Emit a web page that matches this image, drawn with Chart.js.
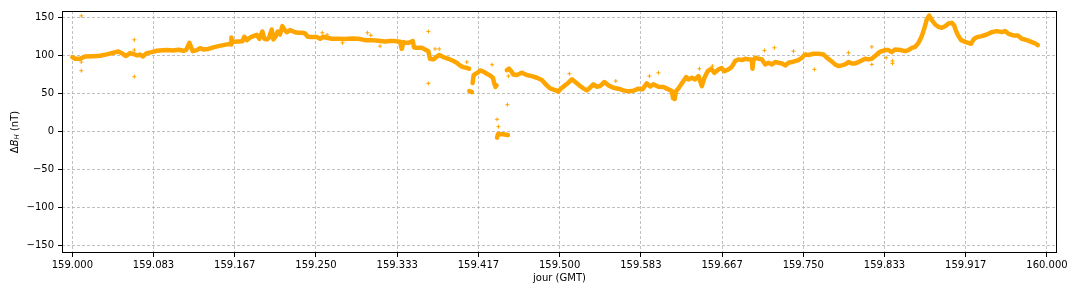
<!DOCTYPE html>
<html>
<head>
<meta charset="utf-8">
<script src="https://cdn.jsdelivr.net/npm/chart.js@4/dist/chart.umd.min.js"></script>
<style>
  html, body { margin: 0; padding: 0; background: #fff; }
  #wrap { width: 1080px; height: 295px; }
</style>
</head>
<body>
<div id="wrap"><canvas id="deltaBH" width="1080" height="295"></canvas></div>
<script>
// main trace of ΔB_H, day of year (GMT) vs nT ; null = gap in the record
const traceDay = [
  159.0000, 159.0028, 159.0079, 159.0130, 159.0215, 159.0284, 159.0353, 159.0421, 159.0472, 159.0517,
  159.0551, 159.0592, 159.0633, 159.0667, 159.0695, 159.0722, 159.0763, 159.0815, 159.0866, 159.0969,
  159.1036, 159.1088, 159.1139, 159.1167, 159.1201, 159.1235, 159.1277, 159.1310, 159.1344, 159.1396,
  159.1447, 159.1498, 159.1550, 159.1601, 159.1629, 159.1632, 159.1639, 159.1652, 159.1703, 159.1744,
  159.1765, 159.1790, 159.1824, 159.1857, 159.1892, 159.1919, 159.1950, 159.1970, 159.1995, 159.2018,
  159.2046, 159.2063, 159.2087, 159.2108, 159.2131, 159.2155, 159.2175, 159.2200, 159.2234, 159.2285,
  159.2319, 159.2360, 159.2388, 159.2416, 159.2457, 159.2508, 159.2542, 159.2576, 159.2611, 159.2662,
  159.2730, 159.2798, 159.2867, 159.2935, 159.3004, 159.3072, 159.3140, 159.3209, 159.3260, 159.3311,
  159.3363, 159.3380, 159.3397, 159.3414, 159.3448, 159.3493, 159.3506, 159.3534, 159.3585, 159.3619,
  159.3653, 159.3670, 159.3704, 159.3739, 159.3766, 159.3807, 159.3858, 159.3910, 159.3944, 159.3978,
  159.4012, 159.4053, 159.4071, 159.4072, 159.4073, 159.4100, 159.4104, 159.4107, 159.4117, 159.4133,
  159.4157, 159.4184, 159.4218, 159.4253, 159.4286, 159.4315, 159.4328, 159.4343, 159.4353, 159.4355,
  159.4358, 159.4368, 159.4420, 159.4469, 159.4470, 159.4458, 159.4481, 159.4502, 159.4525, 159.4560,
  159.4612, 159.4663, 159.4714, 159.4766, 159.4817, 159.4868, 159.4902, 159.4953, 159.4987, 159.5005,
  159.5056, 159.5090, 159.5125, 159.5176, 159.5210, 159.5244, 159.5279, 159.5312, 159.5346, 159.5381,
  159.5415, 159.5459, 159.5500, 159.5552, 159.5603, 159.5654, 159.5705, 159.5757, 159.5808, 159.5849,
  159.5894, 159.5928, 159.5962, 159.6013, 159.6065, 159.6116, 159.6151, 159.6164, 159.6180, 159.6195,
  159.6219, 159.6246, 159.6270, 159.6298, 159.6321, 159.6356, 159.6390, 159.6424, 159.6459, 159.6485,
  159.6520, 159.6554, 159.6588, 159.6629, 159.6664, 159.6688, 159.6732, 159.6767, 159.6800, 159.6834,
  159.6869, 159.6903, 159.6937, 159.6972, 159.6978, 159.6988, 159.7006, 159.7040, 159.7075, 159.7108,
  159.7142, 159.7177, 159.7211, 159.7245, 159.7280, 159.7314, 159.7348, 159.7382, 159.7416, 159.7450,
  159.7485, 159.7519, 159.7553, 159.7604, 159.7655, 159.7707, 159.7741, 159.7775, 159.7826, 159.7860,
  159.7895, 159.7929, 159.7963, 159.7998, 159.8032, 159.8066, 159.8100, 159.8134, 159.8168, 159.8203,
  159.8237, 159.8271, 159.8306, 159.8340, 159.8374, 159.8408, 159.8442, 159.8494, 159.8545, 159.8579,
  159.8614, 159.8648, 159.8682, 159.8716, 159.8743, 159.8767, 159.8791, 159.8819, 159.8853, 159.8887,
  159.8921, 159.8955, 159.8989, 159.9024, 159.9048, 159.9068, 159.9092, 159.9120, 159.9161, 159.9194,
  159.9222, 159.9246, 159.9281, 159.9332, 159.9383, 159.9435, 159.9486, 159.9537, 159.9571, 159.9605,
  159.9656, 159.9701, 159.9742, 159.9794, 159.9845, 159.9886, 159.9906
];
const traceNT = [
  98.2, 96, 96, 99, 99.5, 100, 101.8, 104, 105.7, 102.6,
  99.6, 103.5, 102, 100.4, 101.5, 99, 103.5, 104.8, 106.6, 107.5,
  107, 108, 106.6, 107.5, 117, 106, 107.5, 110, 108.3, 109,
  111, 112.7, 114, 115.4, 115, 124, 117.5, 118.4, 118.9, 119,
  125, 120.6, 124, 125.9, 127.6, 122.4, 132, 122.4, 121.5, 123.7,
  134.6, 121.5, 125.9, 132, 128, 139, 134.6, 131, 133.8, 131,
  130.3, 130.3, 129.4, 125, 124.6, 124.6, 122.4, 125, 123.7, 122.4,
  122.4, 122, 122.8, 122.4, 120.6, 120.6, 119.7, 118.9, 119.3, 119.3,
  118.4, 109, 118, 117, 117, 119.3, 111, 110.5, 110.5, 108.3,
  106, 96, 95.2, 98.7, 101, 98.2, 96, 93, 90.8, 87.3,
  85, 83.8, 83, null, 53.5, 52, null, 64, 74, 76,
  77.5, 80.7, 79, 76.3, 74.1, 71, 64, 59, 61, null,
  -8, -3, -3.5, -4.5, null, 81, 83, 80, 75.4, 74.6,
  77.6, 74.6, 73.2, 71, 68, 61, 57, 54.8, 52.6, 55.7,
  61, 64.5, 68.9, 63.6, 60.1, 57, 54.4, 57.9, 62.3, 59.2,
  60.1, 65.4, 61, 57.9, 56.6, 54.4, 53.1, 53.9, 56.6, 55.7,
  63.6, 59.5, 62.3, 59.2, 58.8, 55.7, 53.5, 44, 43, 53.5,
  57, 62.3, 66.7, 71.9, 68.9, 71, 68.9, 73.2, 60, 71,
  79.8, 82.9, 77.6, 82, 83.8, 79.5, 82, 85.5, 93, 95.2,
  94.3, 96, 95.2, 95.2, 83, 94, 97.4, 96, 95.2, 88.6,
  90.8, 88.6, 91.7, 90.8, 89.9, 87.3, 90.8, 91.7, 93, 94.3,
  97.4, 101.8, 101, 102.6, 102.6, 101.8, 97.4, 94.3, 88.6, 86.4,
  87.3, 88.6, 91.7, 89.9, 89.9, 91.7, 93.9, 96, 95.2, 96,
  99.6, 103.9, 106.1, 107.5, 107.5, 104.8, 108.3, 107.5, 106.1, 107.5,
  110.5, 111.8, 117, 125.9, 136.8, 147.8, 153, 146.9, 141.2, 138.2,
  136.8, 139, 142.5, 143.4, 139.9, 132.5, 125.9, 120.6, 118.4, 117,
  115.8, 121.5, 124.6, 125.9, 128, 131.1, 132.5, 131.1, 132.5, 129,
  126.8, 126.8, 122.4, 120.6, 118, 115.8, 114
];

// isolated samples away from the trace
const spikeDay = [
  159.0092, 159.0092, 159.0092, 159.0636, 159.0636, 159.0636, 159.2565, 159.2614, 159.2771, 159.3028,
  159.3062, 159.3157, 159.3653, 159.3653, 159.3722, 159.3764, 159.4047, 159.4307, 159.4464, 159.4358,
  159.4372, 159.4474, 159.5100, 159.5576, 159.5921, 159.6013, 159.6434, 159.6567, 159.7101, 159.7204,
  159.7399, 159.7614, 159.7963, 159.8203, 159.8203, 159.8350, 159.8415, 159.8415
];
const spikeNT = [
  152.6, 91.7, 80.3, 121, 107.5, 72.4, 130.3, 127.6, 117, 130.3,
  127, 112.7, 132, 63.6, 109, 109, 91.7, 88.2, 35.5, 16.2,
  6.6, 73.2, 76.3, 66.7, 73.2, 77.6, 82.9, 86.4, 107, 110.5,
  106, 82, 104, 111.8, 88.6, 97.4, 93, 90
];

// ticks every 2 hours
const xTicks = [159.0, 159.083333, 159.166667, 159.25, 159.333333, 159.416667, 159.5,
                159.583333, 159.666667, 159.75, 159.833333, 159.916667, 160.0];
const yTicks = [-150, -100, -50, 0, 50, 100, 150];

const ORANGE = '#ffa500';
const FONT = { family: '"DejaVu Sans", sans-serif', size: 10 };

// spines + axis titles, matplotlib style
const framePlugin = {
  id: 'frame',
  afterDraw(chart) {
    const { ctx, chartArea: a } = chart;
    ctx.save();
    ctx.strokeStyle = '#000';
    ctx.lineWidth = 1;
    ctx.strokeRect(Math.round(a.left) + 0.5, Math.round(a.top) + 0.5,
      Math.round(a.right - a.left) - 1, Math.round(a.bottom - a.top) - 1);

    ctx.fillStyle = '#000';
    ctx.font = '10px "DejaVu Sans", sans-serif';
    ctx.textAlign = 'center';
    ctx.textBaseline = 'middle';
    ctx.fillText('jour (GMT)', (a.left + a.right) / 2, 278);

    // y title: ΔB_H (nT), drawn rotated with a subscript
    const parts = [
      { t: 'Δ', f: '10px "DejaVu Sans", sans-serif', dy: 0 },
      { t: 'B', f: 'italic 10px "DejaVu Sans", sans-serif', dy: 0 },
      { t: 'H', f: 'italic 7px "DejaVu Sans", sans-serif', dy: 2 },
      { t: ' (nT)', f: '10px "DejaVu Sans", sans-serif', dy: 0 }
    ];
    let total = 0;
    parts.forEach(p => { ctx.font = p.f; p.w = ctx.measureText(p.t).width; total += p.w; });
    ctx.translate(15, (a.top + a.bottom) / 2);
    ctx.rotate(-Math.PI / 2);
    ctx.textAlign = 'left';
    let x = -total / 2;
    parts.forEach(p => {
      ctx.font = p.f;
      ctx.fillText(p.t, x, p.dy);
      x += p.w;
    });
    ctx.restore();
  }
};

const ctx = document.getElementById('deltaBH');
new Chart(ctx, {
  type: 'line',
  data: {
    datasets: [
      {
        label: 'trace',
        data: traceDay.map((d, i) => ({ x: d, y: traceNT[i] })),
        borderColor: ORANGE,
        backgroundColor: ORANGE,
        borderWidth: 4.5,
        pointRadius: 0,
        tension: 0,
        spanGaps: false,
        borderJoinStyle: 'round',
        borderCapStyle: 'round'
      },
      {
        label: 'spikes',
        data: spikeDay.map((d, i) => ({ x: d, y: spikeNT[i] })),
        showLine: false,
        pointStyle: 'cross',
        pointRadius: 2,
        borderWidth: 1,
        borderColor: ORANGE,
        backgroundColor: ORANGE
      }
    ]
  },
  options: {
    responsive: false,
    animation: false,
    devicePixelRatio: 1,
    layout: { padding: { top: 11, right: 23, left: 0, bottom: 0 } },
    plugins: { legend: { display: false }, tooltip: { enabled: false } },
    scales: {
      x: {
        type: 'linear',
        min: 158.9894,
        max: 160.0103,
        afterBuildTicks: s => { s.ticks = xTicks.map(v => ({ value: v })); },
        afterFit: s => { s.height = 42; },
        border: { display: false, dash: [3, 2] },
        grid: {
          color: '#b0b0b0', lineWidth: 0.8,
          tickColor: '#000', tickLength: 4, tickWidth: 1, tickBorderDash: []
        },
        ticks: {
          font: FONT, color: '#000', padding: 2, maxRotation: 0, autoSkip: false,
          callback: v => v.toFixed(3)
        }
      },
      y: {
        type: 'linear',
        min: -160,
        max: 159,
        afterBuildTicks: s => { s.ticks = yTicks.map(v => ({ value: v })); },
        afterFit: s => { s.width = 62; },
        border: { display: false, dash: [3, 2] },
        grid: {
          color: '#b0b0b0', lineWidth: 0.8,
          tickColor: '#000', tickLength: 4, tickWidth: 1, tickBorderDash: []
        },
        ticks: {
          font: FONT, color: '#000', padding: 4,
          callback: v => (v < 0 ? '\u2212' + Math.abs(v) : String(v))
        }
      }
    }
  },
  plugins: [framePlugin]
});
</script>
</body>
</html>
